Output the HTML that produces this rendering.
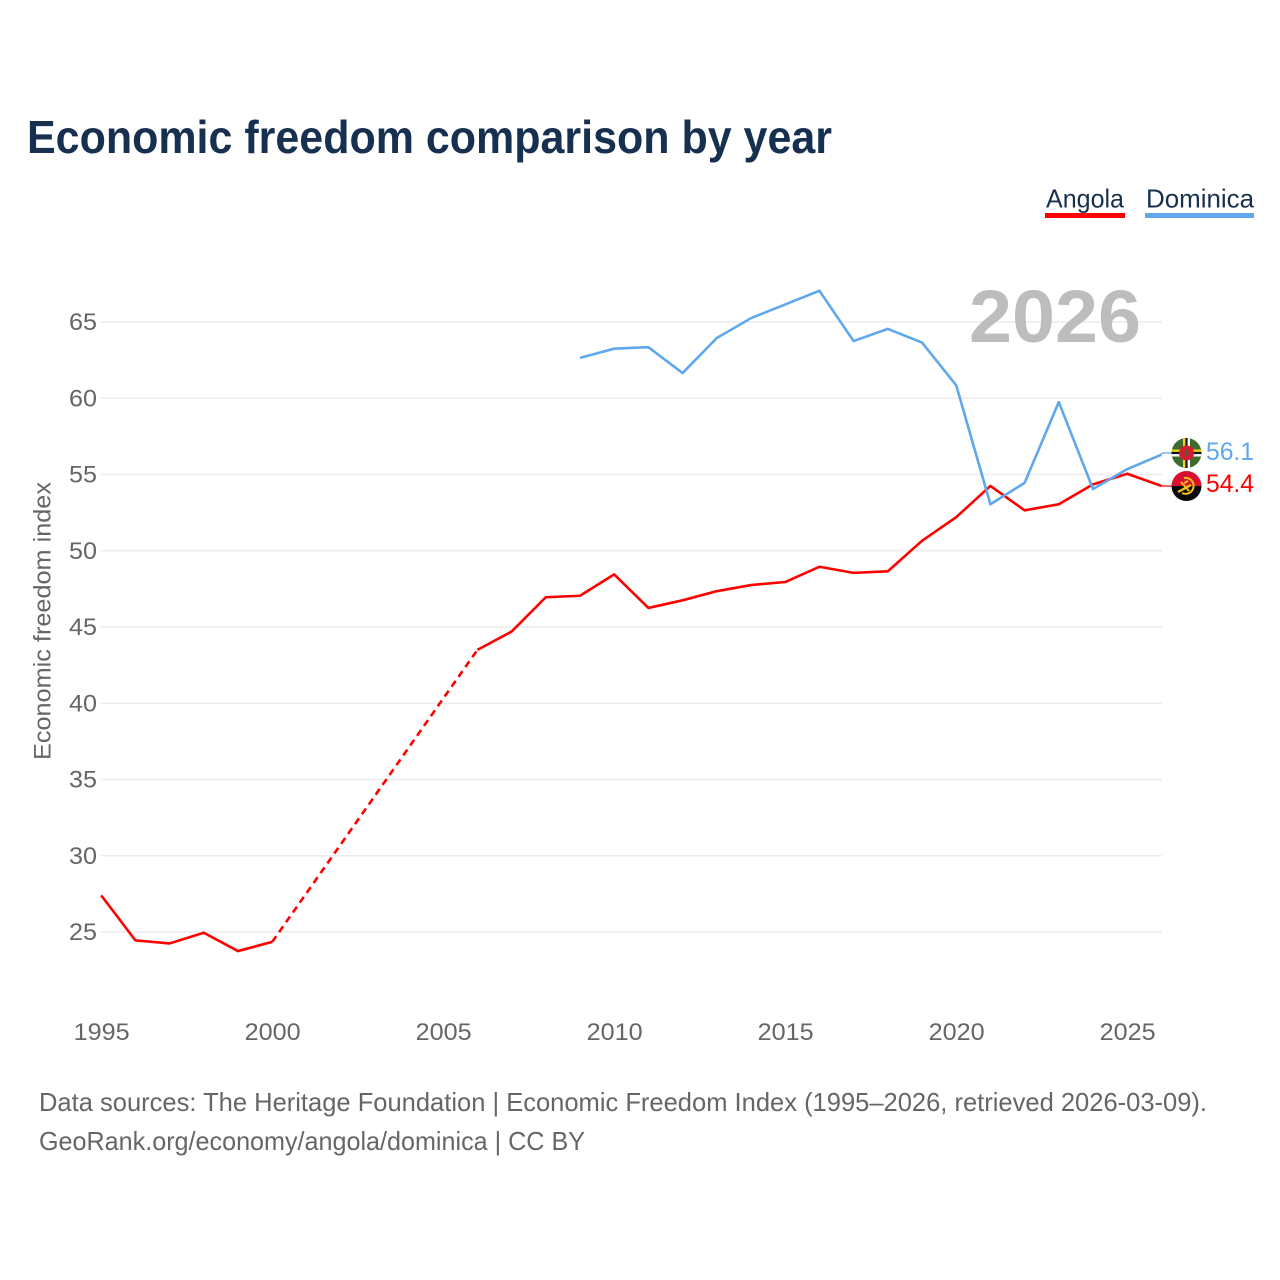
<!DOCTYPE html>
<html lang="en">
<head>
<meta charset="utf-8">
<title>Economic freedom comparison by year</title>
<style>
html,body{margin:0;padding:0;background:#fff;}
svg{display:block;font-family:"Liberation Sans",sans-serif;}
</style>
</head>
<body>
<svg id="chart" xmlns="http://www.w3.org/2000/svg" width="1280" height="1280" viewBox="0 0 1280 1280">
  <rect width="1280" height="1280" fill="#fff"/>
  <text x="27" y="153" font-size="46" font-weight="700" fill="#18304f" textLength="805" lengthAdjust="spacingAndGlyphs">Economic freedom comparison by year</text>

  <g>
    <g>
      <text x="1046" y="207.5" font-size="26" fill="#18304f" textLength="78" lengthAdjust="spacingAndGlyphs">Angola</text>
      <rect x="1045" y="213" width="80" height="5" fill="#ff0000"/>
    </g>
    <g>
      <text x="1146" y="207.5" font-size="26" fill="#18304f" textLength="108" lengthAdjust="spacingAndGlyphs">Dominica</text>
      <rect x="1145" y="213" width="109" height="5" fill="#60a8ed"/>
    </g>
  </g>

  <g id="grid"></g>
  <text x="969" y="342" font-size="74" font-weight="700" fill="#bdbdbd" textLength="172" lengthAdjust="spacingAndGlyphs">2026</text>
  <g id="yticks"></g>
  <g id="xticks"></g>
  <text transform="translate(50.5,621) rotate(-90)" text-anchor="middle" font-size="24" fill="#666" textLength="278" lengthAdjust="spacingAndGlyphs">Economic freedom index</text>
  <g id="series"></g>

  <defs>
    <clipPath id="clip-dm"><circle cx="1186.5" cy="453" r="15"/></clipPath>
    <clipPath id="clip-ao"><circle cx="1186.5" cy="486" r="15"/></clipPath>
  </defs>
  <g id="connectors"></g>

  <g clip-path="url(#clip-dm)">
    <rect x="1171" y="438" width="31" height="31" fill="#3f6b2c"/>
    <rect x="1171" y="449.5" width="31" height="2.4" fill="#f5d416"/>
    <rect x="1171" y="451.9" width="31" height="2.2" fill="#111"/>
    <rect x="1171" y="454.1" width="31" height="2.4" fill="#fff"/>
    <rect x="1183" y="438" width="2.4" height="31" fill="#f5d416"/>
    <rect x="1185.4" y="438" width="2.2" height="31" fill="#111"/>
    <rect x="1187.6" y="438" width="2.4" height="31" fill="#fff"/>
    <circle cx="1186.5" cy="453" r="7.5" fill="#d41c30"/>
    <ellipse cx="1186.5" cy="453" rx="1.6" ry="3.4" fill="#2f6b2c"/>
  </g>
  <g clip-path="url(#clip-ao)">
    <rect x="1171" y="471" width="31" height="15" fill="#d9102f"/>
    <rect x="1171" y="486" width="31" height="16" fill="#0a0a0a"/>
    <path d="M1184 478 A8 8 0 1 1 1182 493" fill="none" stroke="#f6c218" stroke-width="2"/>
    <path d="M1178 492 L1191 485" stroke="#f6c218" stroke-width="2.4" fill="none"/>
    <path d="M1181 482 L1189 491" stroke="#f6c218" stroke-width="2" fill="none"/>
    <path d="M1184 483 l4 -2" stroke="#f6c218" stroke-width="2" fill="none"/>
  </g>

  <text id="label-dominica" x="1206" y="460" font-size="25" fill="#60a8ed" textLength="48" lengthAdjust="spacingAndGlyphs"></text>
  <text id="label-angola" x="1206" y="492" font-size="25" fill="#ff0000" textLength="48" lengthAdjust="spacingAndGlyphs"></text>

  <g>
    <text x="39" y="1111" font-size="26" fill="#666" textLength="1168" lengthAdjust="spacingAndGlyphs">Data sources: The Heritage Foundation | Economic Freedom Index (1995–2026, retrieved 2026-03-09).</text>
    <text x="39" y="1150" font-size="26" fill="#666" textLength="546" lengthAdjust="spacingAndGlyphs">GeoRank.org/economy/angola/dominica | CC BY</text>
  </g>
</svg>

<script>
const years = [1995,1996,1997,1998,1999,2000,2001,2002,2003,2004,2005,2006,2007,2008,2009,2010,2011,2012,2013,2014,2015,2016,2017,2018,2019,2020,2021,2022,2023,2024,2025,2026];
const angolaValues = [27.4,24.45,24.25,24.95,23.75,24.35,null,null,null,null,null,43.5,44.7,46.95,47.05,48.45,46.25,46.75,47.35,47.75,47.95,48.95,48.55,48.65,50.65,52.2,54.25,52.65,53.05,54.35,55.05,54.25];
const dominicaValues = [null,null,null,null,null,null,null,null,null,null,null,null,null,null,62.65,63.25,63.35,61.65,63.95,65.25,66.15,67.05,63.75,64.55,63.65,60.85,53.05,54.45,59.75,54.05,55.35,56.3];
const yTickValues = [25,30,35,40,45,50,55,60,65];
const xTickValues = [1995,2000,2005,2010,2015,2020,2025];
const angolaLabel = "54.4";
const dominicaLabel = "56.1";

const NS = "http://www.w3.org/2000/svg";
const xScale = function (year) { return 101.2 + (year - 1995) * (1127.2 - 101.2) / 30; };
const yScale = function (value) { return 932 - (value - 25) * (932 - 322) / 40; };

function make(tag, attrs, parent) {
  const el = document.createElementNS(NS, tag);
  for (const key in attrs) { el.setAttribute(key, attrs[key]); }
  parent.appendChild(el);
  return el;
}

const grid = document.getElementById("grid");
const yticks = document.getElementById("yticks");
yTickValues.forEach(function (v) {
  const line = make("line", { x1: 101, x2: 1162, y1: yScale(v), y2: yScale(v), stroke: "#ececec", "stroke-width": 1.5 }, grid);
  
  
  const t = make("text", { x: 69, y: yScale(v) + 8, "font-size": 24, fill: "#666", textLength: 28, lengthAdjust: "spacingAndGlyphs" }, yticks);
  
  
  t.textContent = String(v);
});

const xticks = document.getElementById("xticks");
xTickValues.forEach(function (yr) {
  const t = make("text", { x: xScale(yr) - 27.5, y: 1040, "font-size": 24, fill: "#666", textLength: 56, lengthAdjust: "spacingAndGlyphs" }, xticks);
  
  
  t.textContent = String(yr);
});

const series = document.getElementById("series");
function drawSeries(values, color, name) {
  let run = [];
  let prev = null;
  function flush() {
    if (run.length > 1) {
      const solid = make("polyline", { points: run.join(" "), fill: "none", stroke: color, "stroke-width": 2.6, "stroke-linejoin": "round" }, series);
      
      
      solid.setAttribute('aria-label', name);
    }
    run = [];
  }
  values.forEach(function (v, i) {
    if (v === null) { return; }
    const pt = xScale(years[i]) + "," + yScale(v);
    if (prev !== null && i - prev > 1) {
      flush();
      const dash = make("line", { x1: xScale(years[prev]), y1: yScale(values[prev]), x2: xScale(years[i]), y2: yScale(v), stroke: color, "stroke-width": 2.6, "stroke-dasharray": "7,5" }, series);
      
      
    }
    run.push(pt);
    prev = i;
  });
  flush();
}
drawSeries(angolaValues, "#ff0000", "Angola");
drawSeries(dominicaValues, "#60a8ed", "Dominica");

const connectors = document.getElementById("connectors");
function drawConnector(values, flagY, color) {
  const endY = yScale(values[values.length - 1]);
  const c = make("polyline", { points: "1161," + endY + " 1162," + flagY + " 1172," + flagY, fill: "none", stroke: color, "stroke-width": 1.2 }, connectors);
  
  
}
drawConnector(dominicaValues, 453, "#60a8ed");
drawConnector(angolaValues, 486, "#ff0000");

document.getElementById("label-dominica").textContent = dominicaLabel;
document.getElementById("label-angola").textContent = angolaLabel;
</script>
</body>
</html>
